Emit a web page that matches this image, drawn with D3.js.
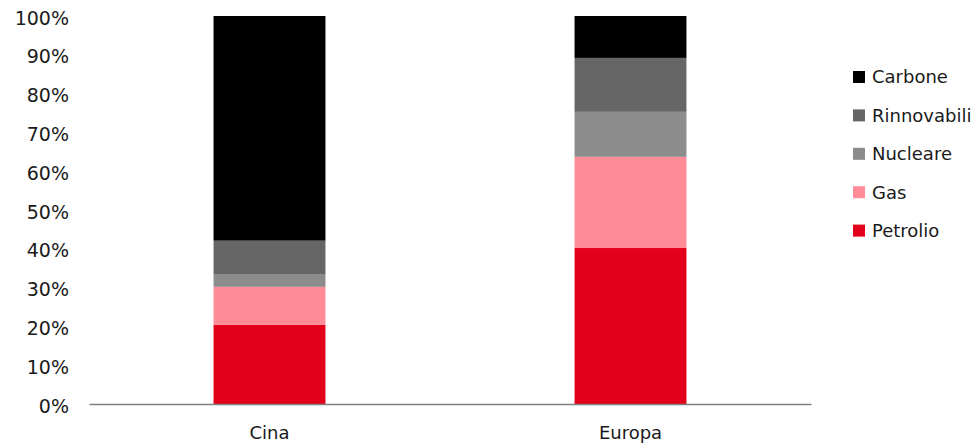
<!DOCTYPE html>
<html><head><meta charset="utf-8">
<script src="https://cdn.jsdelivr.net/npm/d3@7"></script>
<style>body{margin:0;background:#fff}svg{display:block}text{font-family:"DejaVu Sans",sans-serif;fill:#1a1a1a}</style>
</head><body><svg id="c" width="979" height="444"></svg>
<script>
const categories = ["Cina", "Europa"];
const seriesNames = ["Petrolio", "Gas", "Nucleare", "Rinnovabili", "Carbone"];
const petrolio = [20.4, 40.2];
const gas = [9.8, 23.5];
const nucleare = [3.3, 11.6];
const rinnovabili = [8.6, 13.9];
const carbone = [57.9, 10.8];
const yTicks = [0, 10, 20, 30, 40, 50, 60, 70, 80, 90, 100];
const colors = ["#e2001a", "#ff8c96", "#8c8c8c", "#666666", "#000000"];

const seriesValues = [petrolio, gas, nucleare, rinnovabili, carbone];
const rows = categories.map((c, i) => {
  const r = {cat: c};
  seriesNames.forEach((s, j) => r[s] = seriesValues[j][i]);
  return r;
});
const stack = d3.stack().keys(seriesNames)(rows);

const svg = d3.select("#c");
const x = d3.scaleBand().domain(categories).range([89, 811]).paddingInner(0.69).paddingOuter(0.345);
const y = d3.scaleLinear().domain([0, 100]).range([404, 16]);

svg.append("g").selectAll("g").data(stack).join("g")
  .attr("fill", (d, i) => colors[i])
  .selectAll("rect").data(d => d).join("rect")
  .attr("x", d => x(d.data.cat))
  .attr("width", x.bandwidth())
  .attr("y", d => y(d[1]))
  .attr("height", d => y(d[0]) - y(d[1]));

// y axis labels
const yAxis = svg.append("g").attr("transform", "translate(69,2)")
  .call(d3.axisLeft(y).tickValues(yTicks).tickSize(0).tickPadding(0).tickFormat(d => d + "%"));
yAxis.select(".domain").remove();
yAxis.selectAll("text").attr("font-size", 19).style("font-family", '"DejaVu Sans",sans-serif').attr("fill", "#1a1a1a");

// x axis
const xAxis = svg.append("g").attr("transform", "translate(0,404)")
  .call(d3.axisBottom(x).tickSize(0).tickPadding(22).tickSizeOuter(0));
xAxis.select(".domain").attr("stroke", "#7f7f7f").attr("stroke-width", 1.3);
xAxis.selectAll("text").attr("font-size", 18).style("font-family", '"DejaVu Sans",sans-serif').attr("fill", "#1a1a1a");

// legend
const legendItems = seriesNames.slice().reverse();
const lg = svg.append("g").attr("transform", "translate(853,0)");
const li = lg.selectAll("g").data(legendItems).join("g")
  .attr("transform", (d, i) => `translate(0,${77 + i * 38.4})`);
li.append("rect").attr("x", 0).attr("y", -6).attr("width", 12).attr("height", 12)
  .attr("fill", d => colors[seriesNames.indexOf(d)]);
li.append("text").attr("x", 19).attr("dy", "0.35em").attr("font-size", 18).text(d => d);
</script></body></html>
